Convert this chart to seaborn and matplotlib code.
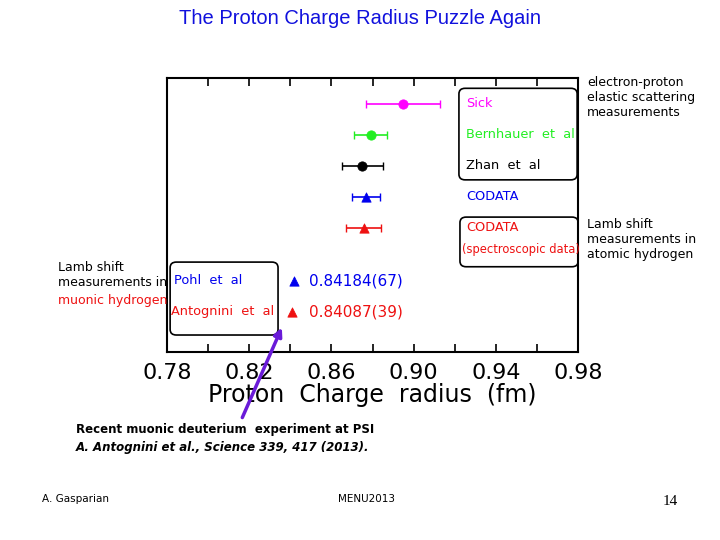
import numpy as np
import pandas as pd
import seaborn as sns
import matplotlib.pyplot as plt
from matplotlib.patches import FancyBboxPatch

labels = ['Sick', 'Bernhauer  et  al', 'Zhan  et  al', 'CODATA', 'CODATA', 'Pohl  et  al', 'Antognini  et  al']
radius = [0.895, 0.879, 0.875, 0.8768, 0.8758, 0.84184, 0.84087]
errors = [0.018, 0.008, 0.010, 0.0069, 0.0085, 0.00067, 0.00039]
rows = [7.0, 6.0, 5.0, 4.0, 3.0, 1.3, 0.3]
colors = ['#ff00ff', '#22ee22', 'black', '#0000ee', '#ee1111', '#0000ee', '#ee1111']
markers = ['o', 'o', 'o', '^', '^', '^', '^']
ticks = [0.78, 0.82, 0.86, 0.90, 0.94, 0.98]

df = pd.DataFrame({'r': radius, 'y': rows, 'label': labels})

fig = plt.figure(figsize=(7.2, 5.4), dpi=100)
ax = fig.add_axes([0.232, 0.348, 0.571, 0.508])
for i in range(len(df)):
    ax.errorbar(radius[i], rows[i], xerr=errors[i] if i < 5 else None, fmt='none',
                ecolor=colors[i], capsize=3, lw=1.2)
    sns.scatterplot(data=df.iloc[[i]], x='r', y='y', color=colors[i], marker=markers[i],
                    s=45, edgecolor=colors[i], ax=ax, zorder=3)
ax.set_xlim(0.78, 0.98)
ax.set_ylim(-1.0, 7.84)
ax.set_yticks([])
ax.set_xticks(ticks)
ax.set_xticklabels(['%.2f' % t for t in ticks], fontsize=16)
ax.set_xticks(np.arange(0.80, 0.98, 0.04), minor=True)
ax.tick_params(axis='x', which='both', direction='in', top=True, length=6, width=1.2, pad=8)
ax.set_xlabel('Proton  Charge  radius  (fm)', fontsize=17, labelpad=0)
ax.set_ylabel('')
for s in ax.spines.values():
    s.set_linewidth(1.5)

# labels inside plot
kw = dict(fontsize=9.3, va='center', fontweight='medium')
ax.text(0.9255, 7.0, 'Sick', color=colors[0], **kw)
ax.text(0.9255, 6.0, 'Bernhauer  et  al', color=colors[1], **kw)
ax.text(0.9255, 5.0, 'Zhan  et  al', color='black', **kw)
ax.text(0.9255, 4.0, 'CODATA', color=colors[3], **kw)
ax.text(0.9255, 3.0, 'CODATA', color=colors[4], **kw)
ax.text(0.9235, 2.3, '(spectroscopic data)', color=colors[4], fontsize=8.3, va='center')
ax.text(0.7835, 1.3, 'Pohl  et  al', color=colors[5], **kw)
ax.text(0.782, 0.3, 'Antognini  et  al', color=colors[6], **kw)
ax.text(0.849, 1.3, '0.84184(67)', color=colors[5], fontsize=11, va='center')
ax.text(0.849, 0.3, '0.84087(39)', color=colors[6], fontsize=11, va='center')
for (x0, y0, w, h) in [(0.922, 4.55, 0.0575, 2.95), (0.9225, 1.75, 0.0575, 1.6), (0.7815, -0.45, 0.0525, 2.35)]:
    ax.add_patch(FancyBboxPatch((x0, y0), w, h, boxstyle='round,pad=0,rounding_size=0.003',
                                fill=False, lw=1.2, ec='black', mutation_aspect=60))

# slide text
fig.text(0.5, 0.965, 'The Proton Charge Radius Puzzle Again', color='#1111dd', fontsize=14.5,
         ha='center', va='center', fontfamily='Liberation Sans')
fig.text(0.815, 0.82, 'electron-proton\nelastic scattering\nmeasurements', fontsize=9, va='center', linespacing=1.2)
fig.text(0.815, 0.557, 'Lamb shift\nmeasurements in\natomic hydrogen', fontsize=9, va='center', linespacing=1.2)
fig.text(0.08, 0.49, 'Lamb shift\nmeasurements in', fontsize=9, va='center', linespacing=1.2)
fig.text(0.08, 0.443, 'muonic hydrogen', fontsize=9, va='center', color='#ee1111')
fig.text(0.105, 0.198, 'Recent muonic deuterium  experiment at PSI', fontsize=8.5, fontweight='bold')
fig.text(0.105, 0.165, 'A. Antognini et al., Science 339, 417 (2013).', fontsize=8.5, fontweight='bold', style='italic')
fig.text(0.058, 0.07, 'A. Gasparian', fontsize=7.5)
fig.text(0.47, 0.07, 'MENU2013', fontsize=7.5)
fig.text(0.92, 0.065, '14', fontsize=11, fontfamily='Liberation Serif')
fig.add_artist(plt.Annotation('', xy=(0.393, 0.398), xytext=(0.335, 0.222), xycoords='figure fraction',
                              arrowprops=dict(arrowstyle='-|>', color='#6a1bd8', lw=2.5, mutation_scale=12)))
fig.savefig('out.png', dpi=100)
